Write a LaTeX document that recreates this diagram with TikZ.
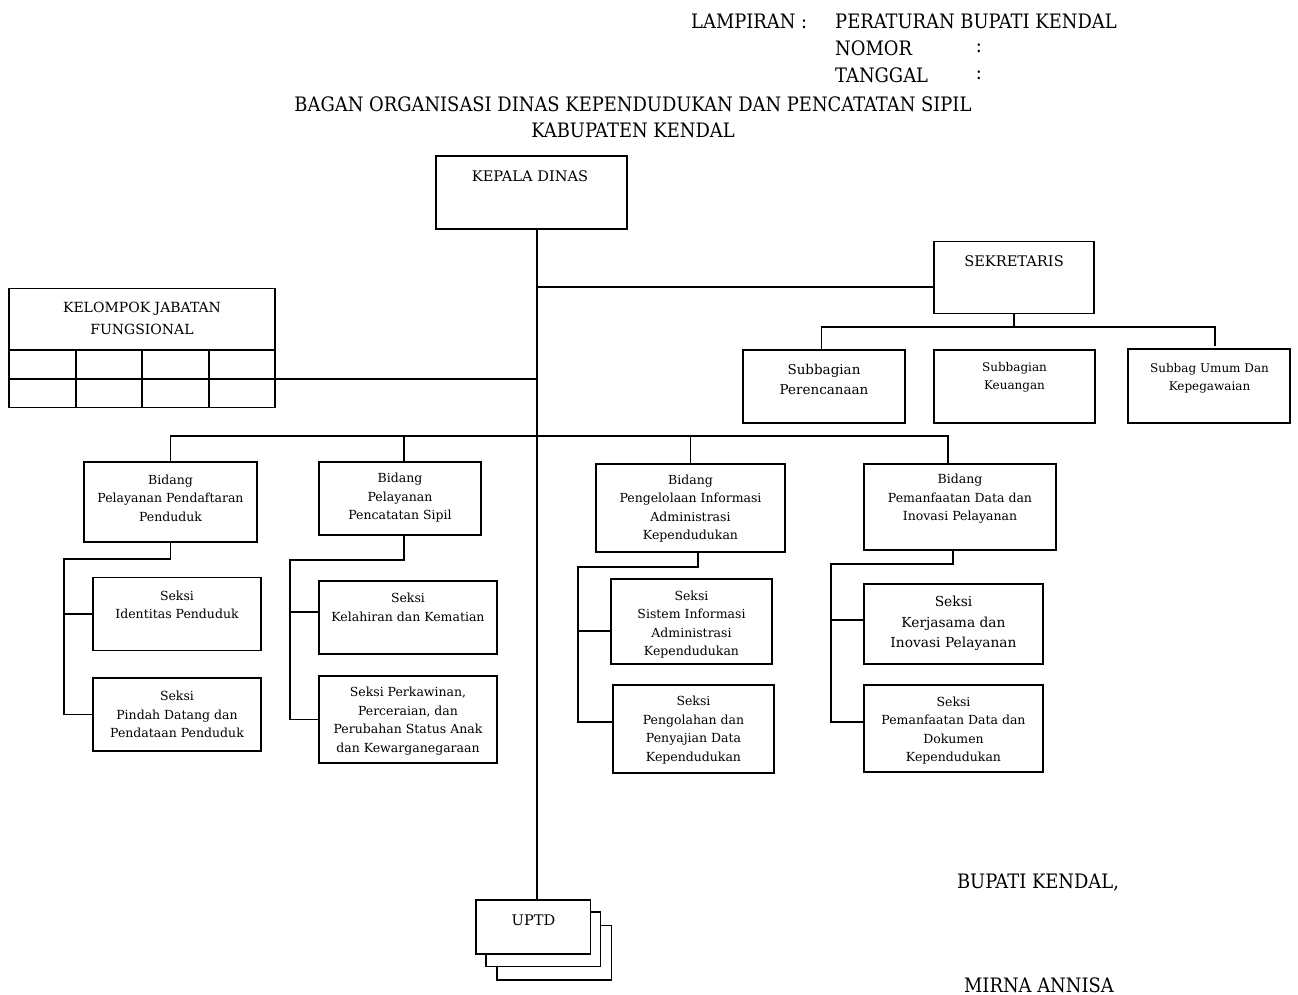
\documentclass[tikz,border=0pt]{standalone}
\usepackage{fontspec}
\setmainfont{DejaVu Serif}
\newfontfamily\hdr{DejaVu Serif Condensed}
\begin{document}
\begin{tikzpicture}[x=1pt,y=-1pt,
  orgbox/.style={draw, line width=1.4pt, inner sep=0pt, fill=white},
  txt/.style={align=center, inner sep=0pt, font=\fontsize{12.5}{18.5}\selectfont},
  bigtxt/.style={align=center, inner sep=0pt, font=\fontsize{13.8}{20.5}\selectfont},
  captxt/.style={align=center, inner sep=0pt, font=\fontsize{14.6}{22}\selectfont},
  hd/.style={inner sep=0pt, font=\hdr\fontsize{19.9}{22}\selectfont},
  conn/.style={line width=1.2pt},
  gridline/.style={line width=1.2pt}]
\useasboundingbox (0,0) rectangle (1298,995);

% ---------- header ----------
\node[hd, anchor=west] (lamp) at (691,21) {LAMPIRAN :};
\node[hd, anchor=west] (perb) at (835,21) {PERATURAN BUPATI KENDAL};
\node[hd, anchor=west] (nomor) at (835,48) {NOMOR};
\node[hd] (nomorc) at (979,48) {:};
\node[hd, anchor=west] (tgl) at (835,75) {TANGGAL};
\node[hd] (tglc) at (979,75) {:};
\node[hd] (title1) at (633,104) {BAGAN ORGANISASI DINAS KEPENDUDUKAN DAN PENCATATAN SIPIL};
\node[hd] (title2) at (633,130) {KABUPATEN KENDAL};

% ---------- trunk ----------
\coordinate (trunk) at (537,0);

% ---------- Kepala Dinas ----------
\node[orgbox, minimum width=191pt, minimum height=73pt] (kd) at (531.5,192.5) {};
\node[captxt] (kdt) at (530,176) {KEPALA DINAS};

% ---------- UPTD stack ----------
\draw[orgbox] (497,925.7) rectangle (611.7,980);
\draw[orgbox] (486,912) rectangle (600.7,966.7);
\node[orgbox, minimum width=114.7pt, minimum height=54pt] (uptd) at (533.35,927) {};
\node[captxt] (uptdt) at (533.5,920) {UPTD};

\draw[conn] (kd.south -| trunk) -- (uptd.north -| trunk);

% ---------- Sekretaris ----------
\node[orgbox, minimum width=160pt, minimum height=72pt] (sek) at (1014,277.5) {};
\node[captxt] (sekt) at (1014,261) {SEKRETARIS};
\coordinate (jsek) at (537,287);
\draw[conn] (jsek) -- (jsek -| sek.west);

\node[orgbox, minimum width=162pt, minimum height=73pt] (sp) at (824,386.5) {};
\node[txt, font=\fontsize{13.5}{20}\selectfont] (spt) at (824,379) {Subbagian\\Perencanaan};
\node[orgbox, minimum width=161pt, minimum height=73pt] (sk) at (1014.5,386.5) {};
\node[txt, font=\fontsize{12}{18}\selectfont] (skt) at (1014.5,377) {Subbagian\\Keuangan};
\node[orgbox, minimum width=162pt, minimum height=74pt] (su) at (1209,386) {};
\node[txt, font=\fontsize{12}{18}\selectfont] (sut) at (1209.5,378) {Subbag Umum Dan\\Kepegawaian};

\coordinate (sbus) at (0,327);
\coordinate (spin) at ([xshift=-2.5pt]sp.north);
\coordinate (suin) at ([xshift=6pt,yshift=2pt]su.north);
\draw[conn] (sek.south) -- (sek.south |- sbus);
\draw[conn] (spin) -- (spin |- sbus) -- (suin |- sbus) -- (suin);

% ---------- Kelompok Jabatan Fungsional ----------
\node[orgbox, minimum width=266pt, minimum height=119pt] (kjf) at (142,348) {};
\node[captxt, font=\fontsize{14}{22}\selectfont] (kjft) at (142,318) {KELOMPOK JABATAN\\FUNGSIONAL};
\coordinate (row1) at (0,350);
\coordinate (row2) at (0,379);
\draw[gridline] (kjf.west |- row1) -- (kjf.east |- row1);
\draw[gridline] (kjf.west |- row2) -- (kjf.east |- row2);
\draw[gridline] (76,350) -- (76,407.5);
\draw[gridline] (142,350) -- (142,407.5);
\draw[gridline] (209,350) -- (209,407.5);
\draw[conn] (kjf.east |- row2) -- (trunk |- row2);

% ---------- Bidang ----------
\node[orgbox, minimum width=173pt, minimum height=80pt] (b1) at (170.5,502) {};
\node[txt] (b1t) at (170.5,498) {Bidang\\Pelayanan Pendaftaran\\Penduduk};
\node[orgbox, minimum width=162pt, minimum height=73pt] (b2) at (400,498.5) {};
\node[txt] (b2t) at (400,498) {Bidang\\Pelayanan\\Pencatatan Sipil};
\node[orgbox, minimum width=189pt, minimum height=88pt] (b3) at (690.5,508) {};
\node[txt] (b3t) at (690.5,508.5) {Bidang\\Pengelolaan Informasi\\Administrasi\\Kependudukan};
\node[orgbox, minimum width=192pt, minimum height=86pt] (b4) at (960,507) {};
\node[txt] (b4t) at (960,499) {Bidang\\Pemanfaatan Data dan\\Inovasi Pelayanan};

\coordinate (bbus) at (0,436);
\coordinate (b2in) at ([xshift=4pt]b2.north);
\coordinate (b4in) at ([xshift=-12pt]b4.north);
\draw[conn] (b1.north) -- (b1.north |- bbus) -- (b4in |- bbus) -- (b4in);
\draw[conn] (b2in |- bbus) -- (b2in);
\draw[conn] (b3.north |- bbus) -- (b3.north);

% ---------- Seksi under Bidang 1 ----------
\node[orgbox, minimum width=168pt, minimum height=73pt] (s11) at (177,614) {};
\node[txt] (s11t) at (177,605) {Seksi\\Identitas Penduduk};
\node[orgbox, minimum width=168pt, minimum height=73pt] (s12) at (177,714.5) {};
\node[txt] (s12t) at (177,714.5) {Seksi\\Pindah Datang dan\\Pendataan Penduduk};
\coordinate (c1) at (64,559);
\draw[conn] (b1.south) -- (b1.south |- c1) -- (c1) -- (c1 |- s12.west) -- (s12.west);
\draw[conn] (c1 |- s11.west) -- (s11.west);

% ---------- Seksi under Bidang 2 ----------
\node[orgbox, minimum width=178pt, minimum height=73pt] (s21) at (408,617.5) {};
\node[txt] (s21t) at (408,607.5) {Seksi\\Kelahiran dan Kematian};
\node[orgbox, minimum width=178pt, minimum height=87pt] (s22) at (408,719.5) {};
\node[txt] (s22t) at (408,721) {Seksi Perkawinan,\\Perceraian, dan\\Perubahan Status Anak\\dan Kewarganegaraan};
\coordinate (c2) at (290,560);
\coordinate (b2out) at ([xshift=4pt]b2.south);
\coordinate (s21in) at ([yshift=5.5pt]s21.west);
\draw[conn] (b2out) -- (b2out |- c2) -- (c2) -- (c2 |- s22.west) -- (s22.west);
\draw[conn] (c2 |- s21in) -- (s21in);

% ---------- Seksi under Bidang 3 ----------
\node[orgbox, minimum width=161pt, minimum height=85pt] (s31) at (691.5,621.5) {};
\node[txt] (s31t) at (691.5,624.5) {Seksi\\Sistem Informasi\\Administrasi\\Kependudukan};
\node[orgbox, minimum width=161pt, minimum height=88pt] (s32) at (693.5,729) {};
\node[txt] (s32t) at (693.5,730) {Seksi\\Pengolahan dan\\Penyajian Data\\Kependudukan};
\coordinate (c3) at (578,567);
\coordinate (b3out) at ([xshift=7.5pt]b3.south);
\coordinate (s31in) at ([yshift=-9.5pt]s31.west);
\coordinate (s32in) at ([yshift=7pt]s32.west);
\draw[conn] (b3out) -- (b3out |- c3) -- (c3) -- (c3 |- s32in) -- (s32in);
\draw[conn] (c3 |- s31in) -- (s31in);

% ---------- Seksi under Bidang 4 ----------
\node[orgbox, minimum width=179pt, minimum height=80pt] (s41) at (953.5,624) {};
\node[bigtxt] (s41t) at (953.5,623.5) {Seksi\\Kerjasama dan\\Inovasi Pelayanan};
\node[orgbox, minimum width=179pt, minimum height=87pt] (s42) at (953.5,728.5) {};
\node[txt] (s42t) at (953.5,730.5) {Seksi\\Pemanfaatan Data dan\\Dokumen\\Kependudukan};
\coordinate (c4) at (831,564);
\coordinate (b4out) at ([xshift=-7pt]b4.south);
\coordinate (s41in) at ([yshift=4pt]s41.west);
\coordinate (s42in) at ([yshift=6.5pt]s42.west);
\draw[conn] (b4out) -- (b4out |- c4) -- (c4) -- (c4 |- s42in) -- (s42in);
\draw[conn] (c4 |- s41in) -- (s41in);

% ---------- signature ----------
\node[hd] (bupati) at (1038,883) {BUPATI KENDAL,};
\node[hd] (nama) at (1039,985) {MIRNA ANNISA};
\end{tikzpicture}
\end{document}
